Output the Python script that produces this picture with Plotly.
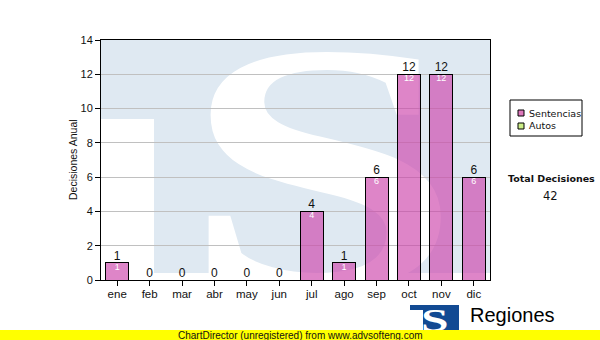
import base64
import plotly.graph_objects as go

# ---------------- data ----------------
months = ["ene", "feb", "mar", "abr", "may", "jun", "jul", "ago", "sep", "oct", "nov", "dic"]
sentencias = [1, 0, 0, 0, 0, 0, 4, 1, 6, 12, 12, 6]
autos = [0, 0, 0, 0, 0, 0, 0, 0, 0, 0, 0, 0]
series_names = ["Sentencias", "Autos"]
y_ticks = [0, 2, 4, 6, 8, 10, 12, 14]
y_title = "Decisiones Anual"
total_title = "Total Decisiones"
total_value = sum(sentencias) + sum(autos)
footer = "ChartDirector (unregistered) from www.advsofteng.com"
brand = "Regiones"

# ---------------- geometry helpers (pixel -> paper) ----------------
L, R, T, B = 101, 490, 40, 280
PW, PH = R - L, B - T


def px(x):
    return (x - L) / PW


def py(y):
    return (B - y) / PH


def svg_uri(svg):
    return "data:image/svg+xml;base64," + base64.b64encode(svg.encode()).decode()


watermark = (
    "<svg xmlns='http://www.w3.org/2000/svg' width='389' height='240' viewBox='0 0 389 240'>"
    "<rect x='0' y='0' width='389' height='233' fill='#dfe9f2'/>"
    "<rect x='0' y='79' width='53' height='161' fill='#ffffff'/>"
    "<text transform='translate(80.8,247) scale(1.42,1)' font-family='Liberation Serif' "
    "font-weight='bold' font-size='355' fill='#ffffff'>S</text>"
    "</svg>"
)
logo = (
    "<svg xmlns='http://www.w3.org/2000/svg' width='49' height='25' viewBox='0 0 49 25'>"
    "<rect x='0' y='0' width='49' height='25' fill='#124a93'/>"
    "<rect x='0' y='5' width='13' height='20' fill='#ffffff'/>"
    "<text transform='translate(11,25.5) scale(1.6,1)' font-family='Liberation Serif' "
    "font-weight='bold' font-size='31' fill='#ffffff'>S</text>"
    "</svg>"
)

pink = "rgba(204,68,170,0.65)"
green = "#ccee88"
sans = "Liberation Sans, Arial, sans-serif"

fig = go.Figure()
fig.add_trace(go.Bar(x=months, y=sentencias, name=series_names[0], width=0.71,
                     marker=dict(color=pink, line=dict(color="black", width=1)),
                     showlegend=False, hoverinfo="skip"))
fig.add_trace(go.Bar(x=months, y=autos, name=series_names[1], width=0.71,
                     marker=dict(color=green, line=dict(color="black", width=0)),
                     showlegend=False, hoverinfo="skip"))
totals = [a + b for a, b in zip(sentencias, autos)]
fig.add_trace(go.Scatter(x=months, y=totals, mode="text", text=[str(v) for v in totals],
                         textposition="top center", cliponaxis=False,
                         textfont=dict(family=sans, size=12, color="#111111"),
                         showlegend=False, hoverinfo="skip"))
nz = [(m, v) for m, v in zip(months, sentencias) if v > 0]
fig.add_trace(go.Scatter(x=[m for m, _ in nz], y=[v for _, v in nz], mode="text",
                         text=[str(v) for _, v in nz], textposition="bottom center",
                         cliponaxis=False,
                         textfont=dict(family=sans, size=9, color="#ffffff"),
                         showlegend=False, hoverinfo="skip"))

shapes = []
annotations = []

# legend
shapes.append(dict(type="rect", xref="paper", yref="paper", x0=px(510), x1=px(582),
                   y0=py(136), y1=py(100), line=dict(color="black", width=1),
                   fillcolor="white", layer="above"))
for i, (name, col) in enumerate(zip(series_names, [pink, green])):
    cy = 113 + 13 * i
    shapes.append(dict(type="rect", xref="paper", yref="paper", x0=px(518), x1=px(524),
                       y0=py(cy + 3), y1=py(cy - 3), line=dict(color="black", width=1),
                       fillcolor="#dd77bb" if i == 0 else col, layer="above"))
    annotations.append(dict(text=name, xref="paper", yref="paper", x=px(526.5), y=py(cy),
                            xanchor="left", yanchor="middle", showarrow=False,
                            font=dict(family="DejaVu Sans", size=9.5, color="#111111")))

# total
annotations.append(dict(text="<b>" + total_title + "</b>", xref="paper", yref="paper",
                        x=px(551), y=py(178), xanchor="center", yanchor="middle",
                        showarrow=False, font=dict(family="DejaVu Sans", size=9.5, color="#111111")))
annotations.append(dict(text=str(total_value), xref="paper", yref="paper",
                        x=px(550), y=py(196), xanchor="center", yanchor="middle",
                        showarrow=False, font=dict(family="DejaVu Sans", size=11.5, color="#111111")))

# y axis title
annotations.append(dict(text=y_title, xref="paper", yref="paper", x=px(73), y=0.5,
                        textangle=-90, xanchor="center", yanchor="middle", showarrow=False,
                        font=dict(family=sans, size=10.5, color="#111111")))

# footer bar
shapes.append(dict(type="rect", xref="paper", yref="paper", x0=px(0), x1=px(600),
                   y0=py(340), y1=py(330), line=dict(width=0), fillcolor="#ffff00",
                   layer="above"))
annotations.append(dict(text=footer, xref="paper", yref="paper", x=px(300), y=py(335),
                        xanchor="center", yanchor="middle", showarrow=False,
                        font=dict(family=sans, size=10, color="#111111")))
annotations.append(dict(text=brand, xref="paper", yref="paper", x=px(468), y=py(315),
                        xanchor="left", yanchor="middle", showarrow=False,
                        font=dict(family=sans, size=20, color="#000000")))

images = [
    dict(source=svg_uri(watermark), xref="paper", yref="paper", x=0, y=1, sizex=1, sizey=1,
         xanchor="left", yanchor="top", sizing="stretch", layer="below"),
    dict(source=svg_uri(logo), xref="paper", yref="paper", x=px(410), y=py(305),
         sizex=49 / PW, sizey=25 / PH, xanchor="left", yanchor="top", sizing="stretch",
         layer="above"),
]

fig.update_layout(
    width=600, height=340,
    margin=dict(l=L, r=600 - R, t=T, b=340 - B, pad=0),
    paper_bgcolor="white", plot_bgcolor="white",
    barmode="stack", bargap=0.29,
    shapes=shapes, annotations=annotations, images=images,
    xaxis=dict(type="category", range=[-0.5, 11.5], showline=True, linecolor="black",
               linewidth=1, mirror=True, ticks="outside", ticklen=5, tickcolor="black",
               showgrid=False, tickfont=dict(family=sans, size=11.5, color="#111111"),
               ticklabelstandoff=-2, fixedrange=True),
    yaxis=dict(range=[0, 14], tickvals=y_ticks, showline=True, linecolor="black",
               linewidth=1, mirror=True, ticks="outside", ticklen=5, tickcolor="black",
               showgrid=True, gridcolor="#c0c0c0", gridwidth=1, zeroline=False,
               tickfont=dict(family=sans, size=11, color="#111111"), fixedrange=True),
    showlegend=False,
)

fig.write_html("out.html")
